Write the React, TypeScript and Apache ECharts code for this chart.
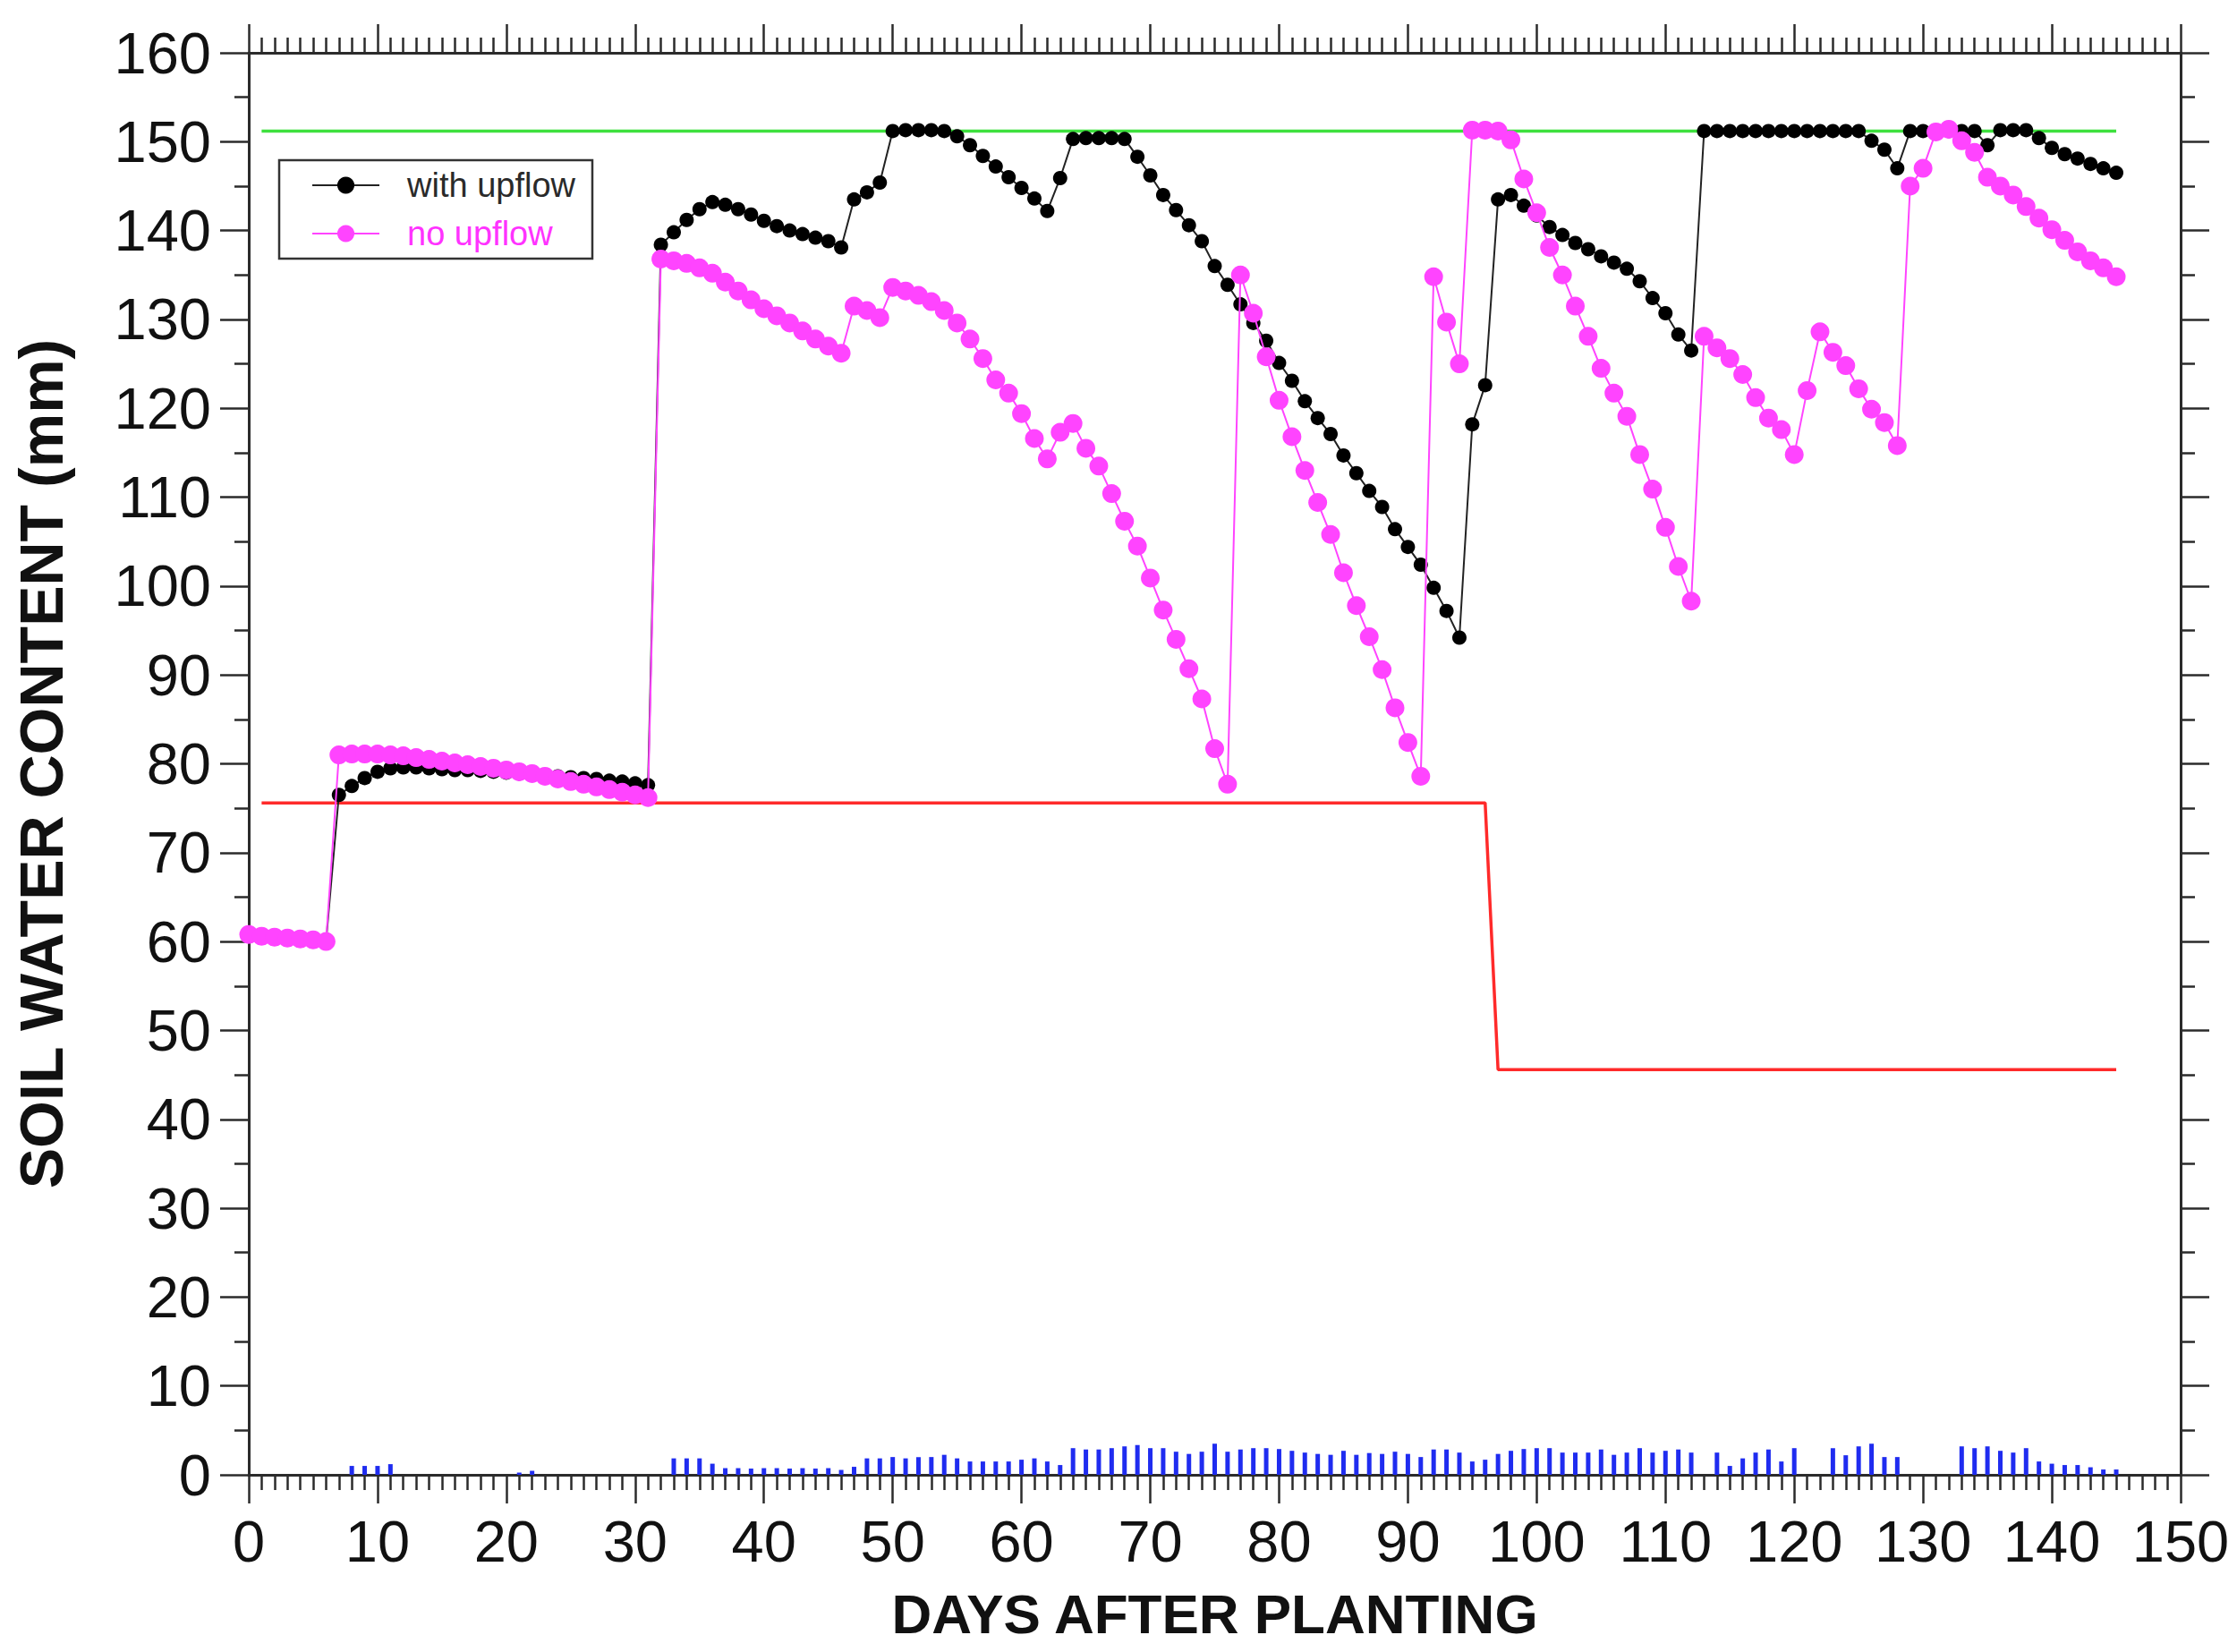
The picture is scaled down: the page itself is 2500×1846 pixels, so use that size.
import React, { useEffect, useRef } from "react";
import * as echarts from "echarts";

// ---- data ----
const dayCount = 146; // days 0..145

const withUpflow: number[] = [
  60.8, 60.6, 60.5, 60.4, 60.3, 60.2, 60.0,
  76.5, 77.5, 78.4, 79.1, 79.5, 79.6, 79.6, 79.5, 79.4, 79.3, 79.3, 79.2, 79.1, 79.0, 78.9, 78.8, 78.7, 78.6, 78.5, 78.4, 78.3, 78.1, 78.0, 77.8, 77.6,
  138.4, 139.8, 141.2, 142.4, 143.2, 142.9, 142.4, 141.8, 141.1, 140.5, 140.0, 139.6, 139.2, 138.8, 138.1,
  143.5, 144.3, 145.4,
  151.2, 151.3, 151.3, 151.3, 151.2,
  150.6, 149.6, 148.4, 147.2, 146.0, 144.8, 143.6, 142.2,
  145.9,
  150.3, 150.4, 150.4, 150.4, 150.3,
  148.3, 146.2, 144.0, 142.3, 140.6, 138.8, 136.0, 133.9, 131.7, 129.6, 127.6, 125.1, 123.1, 120.8, 118.9, 117.1, 114.7, 112.7, 110.7, 108.9, 106.4, 104.4, 102.4, 99.8, 97.2, 94.2,
  118.2, 122.6,
  143.5, 144.0, 142.8, 141.7, 140.4, 139.5, 138.6, 137.9, 137.1, 136.4, 135.7, 134.3, 132.4, 130.7, 128.3, 126.5,
  151.2, 151.2, 151.2, 151.2, 151.2, 151.2, 151.2, 151.2, 151.2, 151.2, 151.2, 151.2, 151.2,
  150.1, 149.1, 147.0,
  151.2, 151.2, 151.2, 151.2, 151.2, 151.2,
  149.6,
  151.3, 151.3, 151.3,
  150.4, 149.3, 148.6, 148.1, 147.5, 147.0, 146.5,
];

const noUpflow: number[] = [
  60.8, 60.6, 60.5, 60.4, 60.3, 60.2, 60.0,
  81.0, 81.1, 81.1, 81.1, 81.0, 80.9, 80.7, 80.5, 80.3, 80.1, 79.9, 79.7, 79.5, 79.3, 79.1, 78.9, 78.6, 78.3, 78.0, 77.7, 77.4, 77.1, 76.8, 76.5, 76.2,
  136.8, 136.6, 136.3, 135.8, 135.2, 134.2, 133.2, 132.2, 131.2, 130.4, 129.6, 128.7, 127.8, 127.0, 126.2,
  131.5, 131.0, 130.2,
  133.6, 133.2, 132.7, 132.0, 131.0, 129.6, 127.8, 125.6, 123.2, 121.7, 119.4, 116.6, 114.3,
  117.3, 118.3, 115.5, 113.5, 110.4, 107.3, 104.5, 100.9, 97.3, 94.0, 90.7, 87.3, 81.7, 77.7,
  135.0, 130.7, 125.8, 120.9, 116.8, 113.0, 109.4, 105.8, 101.5, 97.8, 94.3, 90.6, 86.3, 82.4, 78.6,
  134.8, 129.7, 125.0,
  151.3, 151.3, 151.2, 150.2, 145.8, 142.0, 138.1, 135.0, 131.5, 128.1, 124.5, 121.7, 119.1, 114.8, 110.9, 106.6, 102.2, 98.3,
  128.1, 126.8, 125.6, 123.8, 121.2, 118.9, 117.6, 114.8,
  122.0, 128.6, 126.3, 124.8, 122.2, 119.9, 118.4, 115.8,
  145.0, 147.0, 151.1, 151.4, 150.1, 148.8, 146.0, 145.0, 144.0, 142.7, 141.4, 140.1, 138.9, 137.6, 136.6, 135.8, 134.8,
];

const dailyBars: number[] = [
  0, 0, 0, 0, 0, 0, 0, 0,
  1.0, 1.0, 1.0, 1.2,
  0, 0, 0, 0, 0, 0, 0, 0, 0,
  0.25, 0.45,
  0, 0, 0, 0, 0, 0, 0, 0, 0, 0,
  1.85, 1.85, 1.85, 1.25,
  0.75, 0.75, 0.7, 0.75, 0.75, 0.7, 0.75, 0.7, 0.75, 0.55,
  0.9, 1.85, 1.85, 2.0,
  1.85, 2.0, 2.0, 2.25, 1.85, 1.5, 1.5, 1.5, 1.5, 1.7,
  1.85, 1.5, 1.1, 3.0, 2.85, 2.85, 3.0, 3.2, 3.35, 3.0,
  3.0, 2.6, 2.35, 2.6, 3.5, 2.6, 2.85, 3.0, 3.0, 2.9,
  2.7, 2.5, 2.35, 2.25, 2.7, 2.25, 2.45, 2.35, 2.6, 2.35,
  2.0, 2.85, 2.85, 2.5, 1.5, 1.7, 2.35, 2.7, 2.9, 3.0,
  3.0, 2.5, 2.5, 2.5, 2.85, 2.25, 2.5, 3.0, 2.5, 2.7, 2.85, 2.5,
  0,
  2.5, 1.0, 1.85, 2.5, 2.85, 1.5, 3.0,
  0, 0,
  3.0, 2.2, 3.2, 3.5, 2.0, 2.0,
  0, 0, 0, 0,
  3.2, 3.0, 3.2, 2.7, 2.5, 3.0, 1.5, 1.25, 1.1, 1.1, 0.85, 0.6, 0.6,
];

const upperLimitDays: number[] = [1, 145];
const upperLimitValues: number[] = [151.2, 151.2];
const lowerLimitDays: number[] = [1, 96, 97, 145];
const lowerLimitValues: number[] = [75.6, 75.6, 45.6, 45.6];

const seriesNames: string[] = ["with upflow", "no upflow"];
const xTitle = "DAYS AFTER PLANTING";
const yTitle = "SOIL WATER CONTENT (mm)";

const FONT = "'Liberation Sans', Arial, Helvetica, sans-serif";

function pairs(xs: number[], ys: number[]): number[][] {
  return xs.map((x, i) => [x, ys[i]]);
}
function daily(ys: number[]): number[][] {
  const out: number[][] = [];
  for (let d = 0; d < dayCount && d < ys.length; d++) out.push([d, ys[d]]);
  return out;
}

export default function App() {
  const ref = useRef<HTMLDivElement | null>(null);

  useEffect(() => {
    document.body.style.margin = "0";
    if (!ref.current) return;
    const chart = echarts.init(ref.current, undefined, { renderer: "svg" });

    const axisLineStyle = { color: "#2b2b2b", width: 3 };
    const tickStyle = { color: "#2b2b2b", width: 2.5 };

    const option: any = {
      animation: false,
      backgroundColor: "#ffffff",
      grid: { left: 278, right: 63, top: 59, bottom: 198, containLabel: false },
      legend: {
        data: [
          { name: seriesNames[0], textStyle: { color: "#2a2a2a" } },
          { name: seriesNames[1], textStyle: { color: "#ff33ff" } },
        ],
        orient: "vertical",
        left: 312,
        top: 179,
        itemWidth: 75,
        itemHeight: 24,
        itemGap: 16,
        padding: [9, 19, 9, 36],
        borderColor: "#333333",
        borderWidth: 2.5,
        borderRadius: 0,
        backgroundColor: "#ffffff",
        textStyle: { fontFamily: FONT, fontSize: 38, padding: [0, 0, 0, 26] },
      },
      xAxis: [
        {
          type: "value",
          position: "bottom",
          min: 0,
          max: 150,
          interval: 10,
          name: xTitle,
          nameLocation: "middle",
          nameGap: 124,
          nameTextStyle: { fontFamily: FONT, fontSize: 62, fontWeight: "bold", color: "#111" },
          axisLine: { show: true, onZero: false, lineStyle: axisLineStyle },
          axisTick: { show: true, inside: false, length: 32, lineStyle: tickStyle },
          minorTick: { show: true, splitNumber: 10, length: 17, lineStyle: tickStyle },
          axisLabel: { fontFamily: FONT, fontSize: 65, color: "#111", margin: 42 },
          splitLine: { show: false },
          minorSplitLine: { show: false },
        },
        {
          type: "value",
          position: "top",
          min: 0,
          max: 150,
          interval: 10,
          axisLine: { show: true, onZero: false, lineStyle: axisLineStyle },
          axisTick: { show: true, inside: false, length: 32, lineStyle: tickStyle },
          minorTick: { show: true, splitNumber: 10, length: 17, lineStyle: tickStyle },
          axisLabel: { show: false },
          splitLine: { show: false },
          minorSplitLine: { show: false },
        },
      ],
      yAxis: [
        {
          type: "value",
          position: "left",
          min: 0,
          max: 160,
          interval: 10,
          name: yTitle,
          nameLocation: "middle",
          nameGap: 198,
          nameTextStyle: { fontFamily: FONT, fontSize: 68, fontWeight: "bold", color: "#111" },
          axisLine: { show: true, onZero: false, lineStyle: axisLineStyle },
          axisTick: { show: true, inside: false, length: 32, lineStyle: tickStyle },
          minorTick: { show: true, splitNumber: 2, length: 16, lineStyle: tickStyle },
          axisLabel: { fontFamily: FONT, fontSize: 65, color: "#111", margin: 42 },
          splitLine: { show: false },
          minorSplitLine: { show: false },
        },
        {
          type: "value",
          position: "right",
          min: 0,
          max: 160,
          interval: 10,
          axisLine: { show: true, onZero: false, lineStyle: axisLineStyle },
          axisTick: { show: true, inside: false, length: 32, lineStyle: tickStyle },
          minorTick: { show: true, splitNumber: 2, length: 16, lineStyle: tickStyle },
          axisLabel: { show: false },
          splitLine: { show: false },
          minorSplitLine: { show: false },
        },
      ],
      series: [
        {
          name: "daily flux",
          type: "bar",
          xAxisIndex: 0,
          yAxisIndex: 0,
          barWidth: 5,
          itemStyle: { color: "#1f2cf0" },
          data: daily(dailyBars),
          z: 2,
        },
        {
          name: "upper limit",
          type: "line",
          symbol: "none",
          lineStyle: { color: "#3ee03e", width: 3.5 },
          data: pairs(upperLimitDays, upperLimitValues),
          z: 3,
        },
        {
          name: "lower limit",
          type: "line",
          symbol: "none",
          lineStyle: { color: "#ff2a2a", width: 3.5 },
          data: pairs(lowerLimitDays, lowerLimitValues),
          z: 3,
        },
        {
          name: seriesNames[0],
          type: "line",
          symbol: "circle",
          symbolSize: 16,
          itemStyle: { color: "#000000" },
          lineStyle: { color: "#222222", width: 2 },
          data: daily(withUpflow),
          z: 4,
        },
        {
          name: seriesNames[1],
          type: "line",
          symbol: "circle",
          symbolSize: 21,
          itemStyle: { color: "#ff44ff" },
          lineStyle: { color: "#ff44ff", width: 2 },
          data: daily(noUpflow),
          z: 5,
        },
      ],
    };

    chart.setOption(option);
    return () => {
      chart.dispose();
    };
  }, []);

  return <div ref={ref} style={{ width: 2500, height: 1846, background: "#fff" }} />;
}
